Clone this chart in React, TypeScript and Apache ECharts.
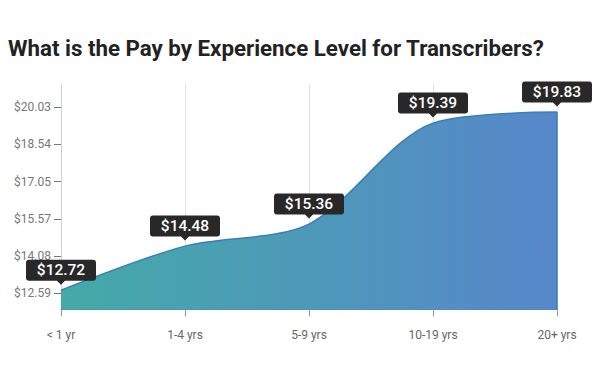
import React, { useEffect, useRef } from "react";
import * as echarts from "echarts";

const categories = ["< 1 yr", "1-4 yrs", "5-9 yrs", "10-19 yrs", "20+ yrs"];
const payValues = [12.72, 14.48, 15.36, 19.39, 19.83];
const yTickValues = [12.59, 14.08, 15.57, 17.05, 18.54, 20.03];
const titleText = "What is the Pay by Experience Level for Transcribers?";

const FONT = "Roboto, 'Noto Sans', sans-serif";
const Y_MIN = 11.95;
const Y_MAX = 20.95;

const pinPath =
  "path://M3,0 H67 Q70,0 70,3 V18 Q70,21 67,21 H39 L35,25 L31,21 H3 Q0,21 0,18 V3 Q0,0 3,0 Z";

export default function App() {
  const ref = useRef<HTMLDivElement>(null);
  useEffect(() => {
    if (!ref.current) return;
    const chart = echarts.init(ref.current, null, { renderer: "svg" });
    chart.setOption({
      animation: false,
      title: {
        text: titleText,
        left: 3,
        top: 32,
        textStyle: { fontFamily: FONT, fontSize: 22.3, fontWeight: "bold", color: "#222" },
      },
      grid: { left: 61, right: 43, top: 84, bottom: 70.5, containLabel: false },
      xAxis: {
        type: "category",
        data: categories,
        boundaryGap: false,
        axisLine: { show: true, lineStyle: { color: "#4a8cbc", width: 1 } },
        axisTick: { show: true, length: 7, alignWithLabel: true, lineStyle: { color: "#999" } },
        axisLabel: { color: "#666", fontFamily: FONT, fontSize: 12, margin: 19 },
        splitLine: { show: true, lineStyle: { color: "#e2e2e2", width: 1 } },
      },
      yAxis: {
        type: "value",
        min: Y_MIN,
        max: Y_MAX,
        axisLine: { show: true, lineStyle: { color: "#d0d0d0" } },
        axisTick: {
          show: true,
          length: 7,
          customValues: yTickValues,
          lineStyle: { color: "#777" },
        },
        axisLabel: {
          customValues: yTickValues,
          color: "#777",
          fontFamily: FONT,
          fontSize: 12,
          margin: 10,
          formatter: (v: number) => "$" + v.toFixed(2),
        },
        splitLine: { show: false },
      },
      series: [
        {
          type: "line",
          data: payValues,
          smooth: 0.3,
          symbol: "none",
          lineStyle: { color: "#3a7fb3", width: 1.5 },
          areaStyle: {
            opacity: 1,
            color: new echarts.graphic.LinearGradient(0, 0, 1, 0, [
              { offset: 0, color: "#44aaa7" },
              { offset: 1, color: "#5787cb" },
            ]),
          },
          markLine: {
            silent: true,
            symbol: "none",
            label: { show: false },
            lineStyle: { color: "#3a7fb3", width: 1.5, type: "solid" },
            data: [
              [
                { coord: [categories[categories.length - 1], Y_MIN] },
                { coord: [categories[categories.length - 1], payValues[payValues.length - 1]] },
              ],
            ],
          },
          markPoint: {
            silent: true,
            symbol: pinPath,
            symbolSize: [70, 25],
            symbolOffset: [0, -18],
            itemStyle: { color: "#282828" },
            label: {
              show: true,
              color: "#fff",
              fontFamily: FONT,
              fontSize: 15.5,
              fontWeight: 500,
              offset: [0, -2],
              formatter: (p: any) => "$" + Number(p.value).toFixed(2),
            },
            data: payValues.map((v, i) => ({ coord: [categories[i], v], value: v })),
          },
        },
      ],
    });
    return () => chart.dispose();
  }, []);
  return <div ref={ref} style={{ width: 600, height: 380, margin: -8 }} />;
}
